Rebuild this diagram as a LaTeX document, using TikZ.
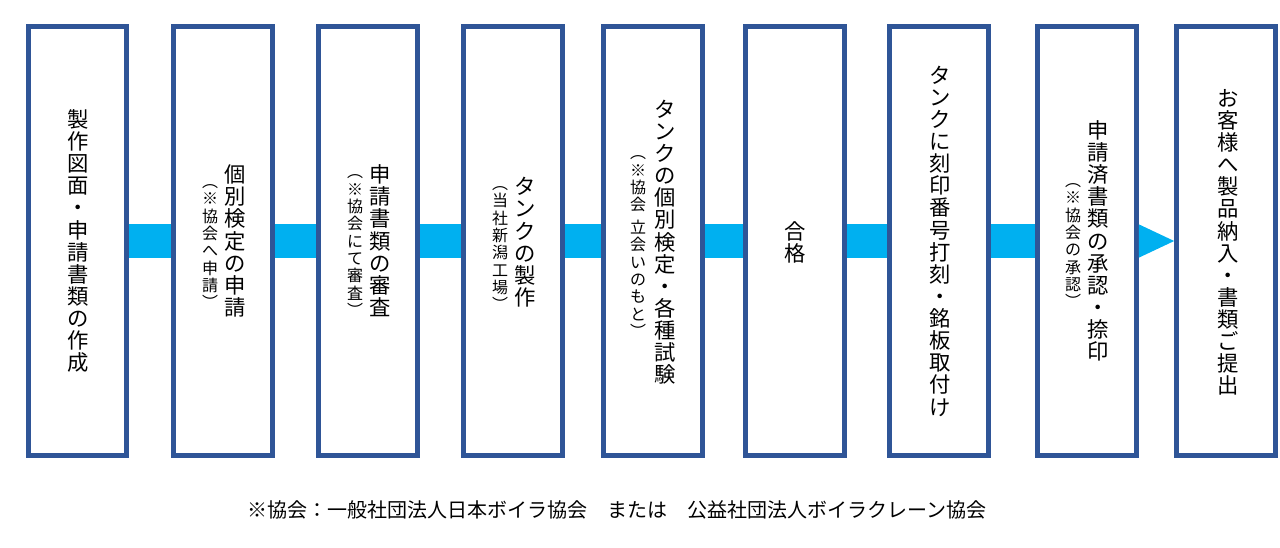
\documentclass[tikz,border=0pt]{standalone}
\usepackage{fontspec}
\setmainfont{Noto Sans CJK JP}
\definecolor{boxblue}{HTML}{2F5597}
\definecolor{barcyan}{HTML}{00B0F0}
% vertical text: one character per line
\newdimen\tatestep
\tatestep=1em
\def\tateend{\tateend}
\def\tategap{\tategap}
\def\tateloop#1{\ifx#1\tateend\else\ifx#1\tategap\kern.3\tatestep\else\hbox to 1em{\hss\vrule height \dimexpr.5\tatestep+.38em\relax depth \dimexpr.5\tatestep-.38em\relax width 0pt\relax #1\hss}\fi\expandafter\tateloop\fi}
\newcommand\tate[1]{\vbox{\offinterlineskip\tateloop#1\tateend}}
\tikzset{
  stepbox/.style={draw=boxblue, line width=3.75pt, fill=white, minimum width=74pt, minimum height=322pt, inner sep=0pt},
  maintext/.style={inner sep=0pt, font={\fontsize{16}{18}\selectfont\tatestep=16.6pt}},
  subtext/.style={inner sep=0pt, font={\fontsize{12}{15}\selectfont\tatestep=13pt}},
  link/.style={draw=barcyan, line width=26pt},
}
\begin{document}
\begin{tikzpicture}[x=0.75pt, y=-0.75pt]
    \useasboundingbox (0,0) rectangle (1280,547);
    % steps
    \node[stepbox] (b1) at (77.5,241) {};
    \node[stepbox] (b2) at (223,241) {};
    \node[stepbox] (b3) at (368,241) {};
    \node[stepbox] (b4) at (513,241) {};
    \node[stepbox] (b5) at (653,241) {};
    \node[stepbox] (b6) at (795,241) {};
    \node[stepbox] (b7) at (939,241) {};
    \node[stepbox] (b8) at (1087,241) {};
    \node[stepbox] (b9) at (1226,241) {};
    % flow bar
    \draw[link] (b1.east) -- (b2.west);
    \draw[link] (b2.east) -- (b3.west);
    \draw[link] (b3.east) -- (b4.west);
    \draw[link] (b4.east) -- (b5.west);
    \draw[link] (b5.east) -- (b6.west);
    \draw[link] (b6.east) -- (b7.west);
    \draw[link] (b7.east) -- (b8.west);
    \fill[barcyan] ([yshift=12.5pt]b8.east) -- (b9.west) -- ([yshift=-12.5pt]b8.east) -- cycle;
    % texts
    \node[maintext] (t1) at (78,241) {\tate{製作図面・申請書類の作成}};
    \node[maintext] (t2) at (235,241) {\tate{個別検定の申請}};
    \node[subtext] (s2) at (210,242) {\tate{︵※協会へ申請︶}};
    \node[maintext] (t3) at (380,241) {\tate{申請書類の審査}};
    \node[subtext] (s3) at (355,241) {\tate{︵※協会にて審査︶}};
    \node[maintext] (t4) at (525,242) {\tate{タンクの製作}};
    \node[subtext] (s4) at (500,244) {\tate{︵当社新潟工場︶}};
    \node[maintext] (t5) at (665,242) {\tate{タンクの個別検定・各種試験}};
    \node[subtext] (s5) at (638,242) {\tate{︵※協会\tategap 立会いのもと︶}};
    \node[maintext] (t6) at (795,242) {\tate{合格}};
    \node[maintext] (t7) at (940,241) {\tate{タンクに刻印番号打刻・銘板取付け}};
    \node[maintext] (t8) at (1098,241) {\tate{申請済書類の承認・捺印}};
    \node[subtext] (s8) at (1073,241) {\tate{︵※協会の承認︶}};
    \node[maintext] (t9) at (1228,242) {\tate{お客様へ製品納入・書類ご提出}};
    \node[font=\fontsize{15}{18}\selectfont] (note) at (617,510) {※協会：一般社団法人日本ボイラ協会　または　公益社団法人ボイラクレーン協会};
\end{tikzpicture}
\end{document}
